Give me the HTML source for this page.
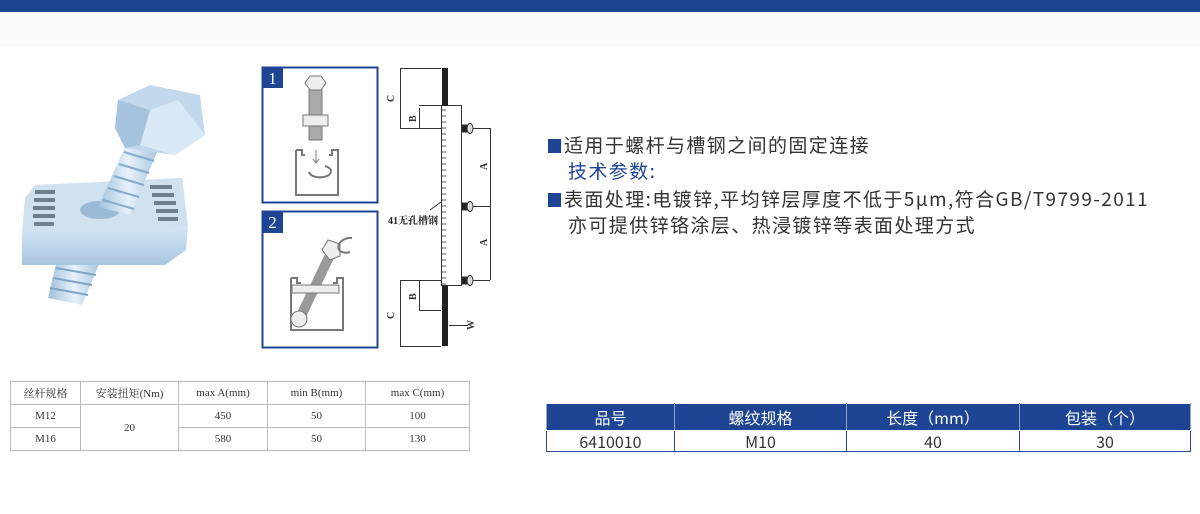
<!DOCTYPE html>
<html><head><meta charset="utf-8"><style>
*{margin:0;padding:0;box-sizing:border-box}
body{width:1200px;height:514px;background:#fff;position:relative;overflow:hidden;font-family:"Liberation Sans","Noto Sans CJK SC",sans-serif}
.top{position:absolute;left:0;top:0;width:1200px;height:12px;background:#1e4594}
.band{position:absolute;left:0;top:12px;width:1200px;height:34px;background:#fbfbfb}
.abs{position:absolute}
table{border-collapse:collapse;position:absolute}
#t1{left:10px;top:381px;width:460px;font-family:"Liberation Serif","Noto Serif CJK SC",serif;font-size:11px;color:#333}
#t1 td{border:1px solid #bbb;text-align:center;height:23px;padding:0}
#t2{left:546px;top:403px;width:645px;font-family:"Noto Sans CJK SC",sans-serif;font-size:16px;color:#333}
#t2 td{border:1px solid #2a4a95;text-align:center;padding:0;line-height:18px}
#t2 .h td{background:#1e4594;color:#fff;height:27px;border-color:#fff #8fa3cc}
#t2 .r td{height:21px}
.txt{position:absolute;left:548px;font-family:"Noto Sans CJK SC",sans-serif;font-size:19px;letter-spacing:1.4px;color:#333;line-height:26px;white-space:nowrap}
.sq{display:inline-block;width:13px;height:14px;background:#1e4594;margin-right:3px;vertical-align:-1px}
</style></head><body>
<div class="top"></div><div class="band"></div>

<svg class="abs" style="left:0;top:0" width="540" height="370" viewBox="0 0 540 370">
<defs>
<linearGradient id="g1" x1="0" y1="0" x2="1" y2="0"><stop offset="0" stop-color="#9fc0dd"/><stop offset=".5" stop-color="#e6f1fa"/><stop offset="1" stop-color="#a9c7e0"/></linearGradient>
<linearGradient id="g2" x1="0" y1="0" x2="0" y2="1"><stop offset="0" stop-color="#d6e6f4"/><stop offset="1" stop-color="#a8c6e0"/></linearGradient>
</defs>
<!-- lower shaft -->
<polygon points="58,255 100,262 82,305 48,298" fill="url(#g1)"/>
<g stroke="#7fa3c4" stroke-width="2">
<line x1="56" y1="268" x2="96" y2="275"/><line x1="53" y1="278" x2="92" y2="285"/><line x1="50" y1="288" x2="88" y2="295"/></g>
<!-- nut block top -->
<polygon points="35,185 182,178 188,225 168,232 22,232 25,198" fill="#cfe0ef"/>
<g fill="#6d7e8f">
<rect x="35" y="190" width="20" height="4"/><rect x="34" y="198" width="21" height="4"/><rect x="33" y="206" width="22" height="4"/><rect x="33" y="214" width="22" height="4"/><rect x="34" y="222" width="20" height="4"/>
<rect x="150" y="185" width="22" height="4"/><rect x="152" y="193" width="22" height="4"/><rect x="154" y="201" width="22" height="4"/><rect x="156" y="209" width="22" height="4"/><rect x="158" y="217" width="20" height="4"/></g>
<ellipse cx="100" cy="210" rx="20" ry="9" fill="#9bbad6"/>
<!-- shaft -->
<polygon points="128,140 158,150 130,215 98,207" fill="url(#g1)"/>
<g stroke="#86aacb" stroke-width="2">
<line x1="124" y1="152" x2="154" y2="161"/><line x1="119" y1="164" x2="149" y2="173"/><line x1="114" y1="176" x2="144" y2="185"/><line x1="108" y1="188" x2="139" y2="197"/><line x1="103" y1="200" x2="134" y2="209"/></g>
<!-- front face -->
<polygon points="22,232 168,232 188,225 186,250 165,265 22,265" fill="url(#g2)"/>
<!-- hex head -->
<polygon points="118,100 150,85 200,95 205,135 175,155 125,148 115,128" fill="#c2d8ec"/>
<polygon points="150,110 178,100 205,135 175,155 140,145" fill="#d9e8f5"/>
<polygon points="118,100 150,110 140,145 125,148 115,128" fill="#a5c3dd"/>
<!-- panel 1 -->
<rect x="262.5" y="67.5" width="115" height="135" fill="#fff" stroke="#1e4594" stroke-width="2"/>
<rect x="262" y="67" width="21" height="21" fill="#1e4594"/>
<text x="272.5" y="84" fill="#fff" font-family="Liberation Serif" font-size="17" text-anchor="middle">1</text>
<g fill="#eee" stroke="#777" stroke-width="1">
<polygon points="305,83 310,76 321,76 326,83 321,90 310,90"/>
<rect x="309" y="90" width="13" height="50" fill="#aaa"/>
<rect x="303" y="115" width="25" height="11"/>
<path d="M296,150 v45 h42 v-45 h-6 v5 h-3 M296,150 h6 v5 h3" fill="none" stroke-width="2"/>
<path d="M309,172 a11,6 0 1 0 16,-6" fill="none" stroke-width="2"/>
<path d="M316,150 v12 m-3,-3 l3,4 3,-4" fill="none"/></g>
<!-- panel 2 -->
<rect x="262.5" y="211.5" width="115" height="136" fill="#fff" stroke="#1e4594" stroke-width="2"/>
<rect x="262" y="211" width="21" height="22" fill="#1e4594"/>
<text x="272.5" y="228" fill="#fff" font-family="Liberation Serif" font-size="17" text-anchor="middle">2</text>
<g fill="#eee" stroke="#777" stroke-width="1">
<path d="M291,278 v52 h52 v-52 h-6 v5 h-4 M291,278 h6 v5 h4" fill="none" stroke-width="2"/>
<line x1="300" y1="318" x2="330" y2="255" stroke="#999" stroke-width="10"/>
<rect x="292" y="285" width="47" height="8"/>
<circle cx="299" cy="319" r="8"/>
<polygon points="322,250 328,240 340,244 340,256 330,260"/>
<path d="M352,238 a10,7 -20 1 0 -2,14" fill="none" stroke-width="2"/></g>
<!-- ruler -->
<g stroke="#333" stroke-width="1" fill="none">
<rect x="441.5" y="105.5" width="20" height="180"/>
<line x1="400.5" y1="68" x2="400.5" y2="128"/><line x1="400" y1="128.5" x2="441" y2="128.5"/>
<line x1="419.5" y1="108" x2="419.5" y2="128"/><line x1="419" y1="105.5" x2="441" y2="105.5"/>
<line x1="400.5" y1="280" x2="400.5" y2="346"/><line x1="400" y1="280.5" x2="441" y2="280.5"/>
<line x1="419.5" y1="280" x2="419.5" y2="310"/><line x1="419" y1="310.5" x2="441" y2="310.5"/>
<line x1="400" y1="346.5" x2="441" y2="346.5"/><line x1="400" y1="68.5" x2="441" y2="68.5"/>
<line x1="472" y1="128.5" x2="490" y2="128.5"/><line x1="472" y1="206.5" x2="490" y2="206.5"/><line x1="472" y1="280.5" x2="490" y2="280.5"/>
<line x1="490.5" y1="128" x2="490.5" y2="280"/>
<line x1="449" y1="325.5" x2="468" y2="325.5"/>
<line x1="430" y1="210" x2="441" y2="202"/>
</g>
<g stroke="#555" stroke-width="1">
<path d="M442,110h4M442,116h4M442,122h4M442,128h4M442,134h4M442,140h4M442,146h4M442,152h4M442,158h4M442,164h4M442,170h4M442,176h4M442,182h4M442,188h4M442,194h4M442,200h4M442,206h4M442,212h4M442,218h4M442,224h4M442,230h4M442,236h4M442,242h4M442,248h4M442,254h4M442,260h4M442,266h4M442,272h4M442,278h4M442,284h4"/></g>
<rect x="442" y="68" width="6" height="38" fill="#222"/>
<rect x="442" y="286" width="6" height="60" fill="#222"/>
<g fill="#ddd" stroke="#333"><rect x="462" y="125" width="5" height="7" fill="#222"/><ellipse cx="470" cy="128.5" rx="3" ry="5"/>
<rect x="462" y="203" width="5" height="7" fill="#222"/><ellipse cx="470" cy="206.5" rx="3" ry="5"/>
<rect x="462" y="277" width="5" height="7" fill="#222"/><ellipse cx="470" cy="280.5" rx="3" ry="5"/></g>
<g font-family="Liberation Serif" font-size="10" font-weight="bold" fill="#333">
<text x="394" y="102" transform="rotate(-90 394 102)">C</text>
<text x="394" y="319" transform="rotate(-90 394 319)">C</text>
<text x="416" y="122" transform="rotate(-90 416 122)">B</text>
<text x="416" y="300" transform="rotate(-90 416 300)">B</text>
<text x="487" y="170" transform="rotate(-90 487 170)">A</text>
<text x="487" y="246" transform="rotate(-90 487 246)">A</text>
<text x="474" y="330" transform="rotate(-90 474 330)">W</text>
</g>
<text x="388" y="224" font-family="Liberation Serif,'Noto Serif CJK SC'" font-size="10" font-weight="bold" fill="#222">41无孔槽钢</text>
</svg>

<div class="txt" style="top:132px"><span class="sq"></span>适用于螺杆与槽钢之间的固定连接</div>
<div class="txt" style="top:158px;left:568px;color:#1e4594">技术参数:</div>
<div class="txt" style="top:186px"><span class="sq"></span>表面处理:电镀锌,平均锌层厚度不低于5μm,符合GB/T9799-2011</div>
<div class="txt" style="top:212px;left:568px">亦可提供锌铬涂层、热浸镀锌等表面处理方式</div>

<table id="t1">
<tr><td style="width:70px">丝杆规格</td><td style="width:98px">安装扭矩(Nm)</td><td style="width:89px">max A(mm)</td><td style="width:98px">min B(mm)</td><td>max C(mm)</td></tr>
<tr><td>M12</td><td rowspan="2">20</td><td>450</td><td>50</td><td>100</td></tr>
<tr><td>M16</td><td>580</td><td>50</td><td>130</td></tr>
</table>

<table id="t2">
<tr class="h"><td style="width:128px">品号</td><td style="width:172px">螺纹规格</td><td style="width:173px">长度（mm）</td><td>包装（个）</td></tr>
<tr class="r"><td>6410010</td><td>M10</td><td>40</td><td>30</td></tr>
</table>
</body></html>
